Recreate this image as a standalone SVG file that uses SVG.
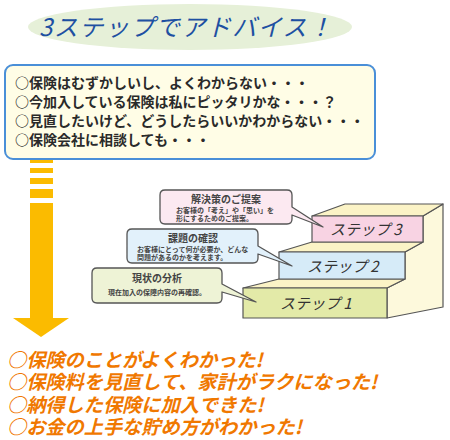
<svg xmlns="http://www.w3.org/2000/svg" width="450" height="440" viewBox="0 0 450 440">
<style>
.jp{font-family:"Noto Sans CJK JP","Noto Sans",sans-serif;}
.q{font-size:14px;font-weight:bold;fill:#2a2a2a;}
.r{font-size:19.2px;font-weight:bold;fill:#f07800;font-style:italic;}
.face{stroke:#555;stroke-width:1.2;stroke-linejoin:round;}
.step{font-size:15px;fill:#333;font-style:italic;}
.co{stroke:#555;stroke-width:1.3;stroke-linejoin:round;}
.ct{font-size:10px;font-weight:bold;fill:#444;}
.cs{font-size:7px;fill:#444;font-weight:bold;}
.arr{fill:#fbbb00;}
</style>
<g id="title">
<ellipse cx="190" cy="27" rx="162" ry="23" fill="#e6f0d8"/>
<text class="jp" x="39" y="36" font-size="24" font-style="italic" fill="#1e50a2" letter-spacing="1.5">3ステップでアドバイス！</text>
</g>
<g id="connectors">
<g id="arrow">
<rect class="arr" x="30" y="159" width="23" height="4"/>
<rect class="arr" x="30" y="168" width="23" height="5"/>
<rect class="arr" x="30" y="178" width="23" height="6"/>
<rect class="arr" x="30" y="189" width="23" height="9"/>
<rect class="arr" x="30" y="203" width="23" height="116"/>
<polygon class="arr" points="13,318 69,318 41,337"/>
</g>
</g>
<g id="concerns">
<rect x="5" y="65" width="370" height="94" rx="8" fill="#fffde6" stroke="#4a8fd8" stroke-width="2"/>
<text class="jp q" x="15" y="88">○保険はむずかしいし、よくわからない・・・</text>
<text class="jp q" x="15" y="107">○今加入している保険は私にピッタリかな・・・？</text>
<text class="jp q" x="15" y="126">○見直したいけど、どうしたらいいかわからない・・・</text>
<text class="jp q" x="15" y="145">○保険会社に相談しても・・・</text>
</g>
<g id="stairs">
<polygon class="face" fill="#fdf9dc" points="423,216 443,204 443,307 387,318 387,288 405,279 405,252 423,242"/>
<polygon class="face" fill="#fbf3c6" points="312,216 345,204 443,204 423,216"/>
<polygon class="face" fill="#fbf3c6" points="279,252 312,242 423,242 405,252"/>
<polygon class="face" fill="#fbf3c6" points="243,288 279,279 405,279 387,288"/>
<g id="step3">
<rect class="face" x="312" y="216" width="111" height="26" fill="#f8d3e3"/>
<text class="jp step" x="330" y="235">ステップ 3</text>
</g>
<g id="step2">
<rect class="face" x="279" y="252" width="126" height="27" fill="#d6ebf8"/>
<text class="jp step" x="307" y="272">ステップ 2</text>
</g>
<g id="step1">
<rect class="face" x="243" y="288" width="144" height="30" fill="#e3eaa8"/>
<text class="jp step" x="280" y="309">ステップ 1</text>
</g>
</g>
<g id="callout3">
<path class="co" fill="#fce9f1" d="M165,190 H287 Q292,190 292,195 V207 L323,227 L292,215 V219 Q292,224 287,224 H165 Q160,224 160,219 V195 Q160,190 165,190 Z"/>
<text class="jp ct" x="226" y="203" text-anchor="middle">解決策のご提案</text>
<text class="jp cs" x="176" y="213">お客様の「考え」や「思い」を</text>
<text class="jp cs" x="176" y="221">形にするためのご提案。</text>
</g>
<g id="callout2">
<path class="co" fill="#e2f1fb" d="M132,229 H253 Q258,229 258,234 V246 L292,266 L258,254 V258 Q258,263 253,263 H132 Q127,263 127,258 V234 Q127,229 132,229 Z"/>
<text class="jp ct" x="193" y="242" text-anchor="middle">課題の確認</text>
<text class="jp cs" x="137" y="252">お客様にとって何が必要か、どんな</text>
<text class="jp cs" x="137" y="260">問題があるのかを考えます。</text>
</g>
<g id="callout1">
<path class="co" fill="#eef3d6" d="M97,268 H217 Q222,268 222,273 V284 L256,302 L222,292 V298 Q222,303 217,303 H97 Q92,303 92,298 V273 Q92,268 97,268 Z"/>
<text class="jp ct" x="157" y="282" text-anchor="middle">現状の分析</text>
<text class="jp cs" x="157" y="295" text-anchor="middle">現在加入の保障内容の再確認。</text>
</g>
<g id="results">
<text class="jp r" x="7" y="367">○保険のことがよくわかった!</text>
<text class="jp r" x="7" y="389">○保険料を見直して、家計がラクになった!</text>
<text class="jp r" x="7" y="412">○納得した保険に加入できた!</text>
<text class="jp r" x="7" y="434">○お金の上手な貯め方がわかった!</text>
</g>
</svg>
